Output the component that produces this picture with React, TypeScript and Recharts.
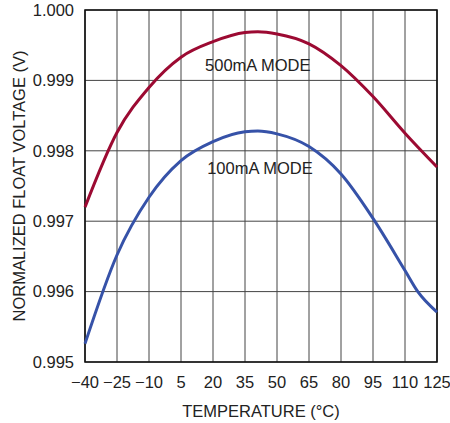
import { ComposedChart, Line, XAxis, YAxis, CartesianGrid, ReferenceArea, ReferenceDot, Label } from 'recharts';

// 500mA mode curve
const temps500 = [-40, -25, -10, 5, 20, 35, 41, 50, 65, 80, 95, 110, 125];
const volts500 = [0.9972, 0.99826, 0.9989, 0.99933, 0.99955, 0.99968, 0.99969, 0.99966, 0.99952, 0.99921, 0.99877, 0.99825, 0.99777];
// 100mA mode curve
const temps100 = [-40, -25, -10, 5, 20, 35, 41, 50, 65, 80, 95, 110, 116, 125];
const volts100 = [0.99526, 0.99652, 0.99734, 0.99786, 0.99813, 0.99827, 0.99828, 0.99824, 0.99806, 0.99767, 0.99704, 0.9963, 0.996, 0.99571];
const xTicks = [-40, -25, -10, 5, 20, 35, 50, 65, 80, 95, 110, 125];
const yTicks = [0.995, 0.996, 0.997, 0.998, 0.999, 1.0];

const data500 = temps500.map((t, i) => ({ t, v: volts500[i] }));
const data100 = temps100.map((t, i) => ({ t, v: volts100[i] }));

const FONT = '"Liberation Sans Narrow", "Liberation Sans", Arial, sans-serif';
const textStyle = { fill: '#222', fontSize: 16.5, fontFamily: FONT };

const fmtX = (v: number) => (v < 0 ? '\u2212' + Math.abs(v) : String(v));

export default function App() {
  return (
    <div style={{ position: 'absolute', left: 0, top: 0, width: 450, height: 423, background: '#fff' }}>
      <ComposedChart width={450} height={423} margin={{ top: 10, right: 13, left: 0, bottom: 0 }}>
        <CartesianGrid stroke="#444" strokeWidth={1} />
        <XAxis
          type="number"
          dataKey="t"
          domain={[-40, 125]}
          ticks={xTicks}
          tickFormatter={fmtX}
          interval={0}
          height={61}
          axisLine={false}
          tickLine={false}
          tick={textStyle}
          tickMargin={8}
          allowDuplicatedCategory={false}
        >
          <Label value="TEMPERATURE (°C)" position="insideBottom" offset={6} style={textStyle} />
        </XAxis>
        <YAxis
          type="number"
          dataKey="v"
          domain={[0.995, 1.0]}
          ticks={yTicks}
          tickFormatter={(v: number) => v.toFixed(3)}
          width={85}
          axisLine={false}
          tickLine={false}
          tick={textStyle}
          tickMargin={5}
        >
          <Label value="NORMALIZED FLOAT VOLTAGE (V)" angle={-90} position="insideLeft" offset={19} style={{ ...textStyle, textAnchor: 'middle' }} />
        </YAxis>
        <ReferenceArea x1={-40} x2={125} y1={0.995} y2={1.0} fill="none" stroke="#111" strokeWidth={1.6} ifOverflow="visible" />
        <Line data={data500} type="monotone" dataKey="v" stroke="#9c0a32" strokeWidth={3} dot={false} isAnimationActive={false} />
        <Line data={data100} type="monotone" dataKey="v" stroke="#3652a8" strokeWidth={3} dot={false} isAnimationActive={false} />
        <ReferenceDot x={41} y={0.99922} r={0} fill="none" stroke="none" label={{ value: '500mA MODE', position: 'center', ...textStyle }} />
        <ReferenceDot x={42} y={0.99775} r={0} fill="none" stroke="none" label={{ value: '100mA MODE', position: 'center', ...textStyle }} />
      </ComposedChart>
    </div>
  );
}
